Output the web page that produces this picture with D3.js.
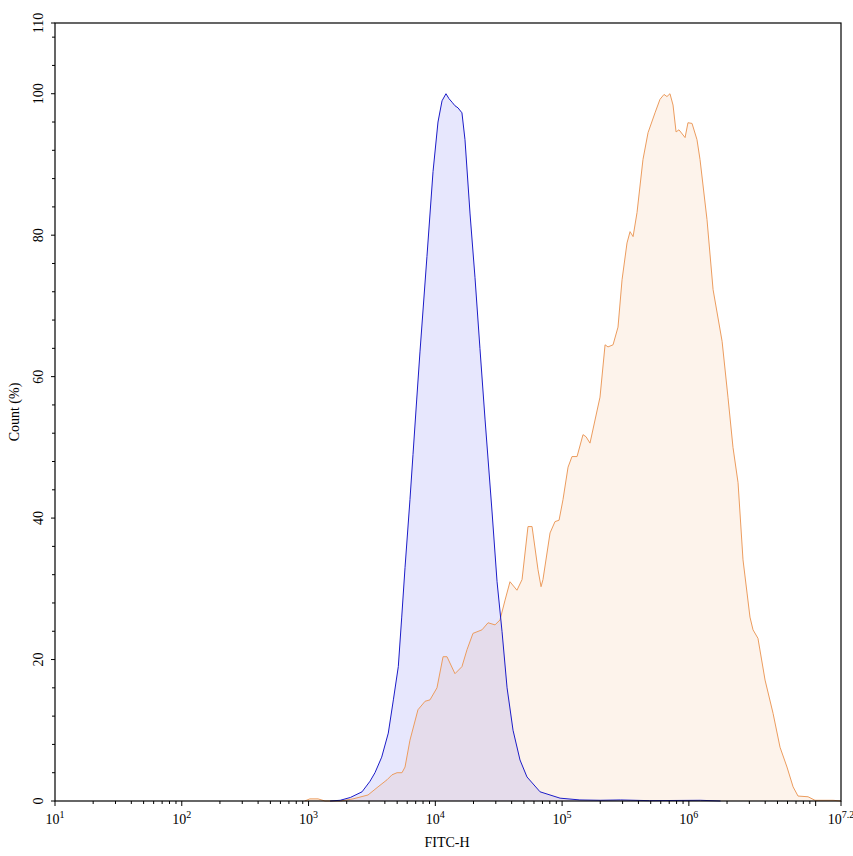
<!DOCTYPE html>
<html>
<head>
<meta charset="utf-8">
<script src="https://cdn.jsdelivr.net/npm/d3@7"></script>
<style>
  body { margin: 0; background: #fff; }
  text { font-family: "Liberation Serif", "Times New Roman", serif; fill: #000; }
</style>
</head>
<body>
<div id="chart"></div>
<script>
/* histogram data: x as log10(FITC-H), y as Count (%) */
var blueExp = [3.17, 3.25, 3.33, 3.422, 3.485, 3.524, 3.577, 3.629, 3.669, 3.708, 3.735, 3.761, 3.800, 3.824, 3.853, 3.879, 3.934, 3.982, 4.021, 4.053, 4.084, 4.108, 4.132, 4.155, 4.179, 4.210, 4.234, 4.274, 4.313, 4.352, 4.392, 4.447, 4.487, 4.526, 4.566, 4.613, 4.668, 4.723, 4.826, 4.984, 5.14, 5.30, 5.46, 5.69, 6.09, 6.25]
var blueCount = [0, 0.1, 0.5, 1.3, 2.8, 4, 6.2, 9.6, 14.3, 19, 26, 33, 42.6, 49, 56.7, 63.5, 77, 89, 96, 99, 100, 99.3, 98.8, 98.3, 98, 97.3, 93.5, 83, 74, 64, 54, 41, 31, 24, 16, 10, 5.8, 3.4, 1.3, 0.4, 0.15, 0.1, 0.15, 0.05, 0.1, 0]

var orangeExp = [2.97, 3.01, 3.075, 3.13, 3.25, 3.351, 3.469, 3.548, 3.619, 3.658, 3.698, 3.737, 3.761, 3.800, 3.863, 3.919, 3.958, 4.013, 4.061, 4.092, 4.155, 4.210, 4.250, 4.297, 4.368, 4.416, 4.471, 4.510, 4.550, 4.589, 4.644, 4.684, 4.731, 4.763, 4.810, 4.834, 4.849, 4.905, 4.944, 4.976, 5.007, 5.047, 5.078, 5.118, 5.165, 5.189, 5.220, 5.299, 5.339, 5.362, 5.402, 5.441, 5.473, 5.512, 5.536, 5.560, 5.591, 5.638, 5.678, 5.733, 5.772, 5.804, 5.827, 5.851, 5.875, 5.899, 5.922, 5.970, 5.993, 6.025, 6.064, 6.088, 6.143, 6.191, 6.262, 6.309, 6.348, 6.388, 6.427, 6.459, 6.482, 6.506, 6.545, 6.601, 6.664, 6.719, 6.774, 6.822, 6.861, 6.940, 6.995, 7.137, 7.2]
var orangeCount = [0, 0.3, 0.3, 0, 0, 0.3, 0.85, 2, 3, 3.7, 4, 4, 4.8, 8.6, 12.9, 14.1, 14.3, 16, 20.4, 20.4, 18, 19, 21.4, 23.7, 24.2, 25.2, 24.9, 25.6, 28.4, 31, 29.8, 31.3, 38.8, 38.8, 32.7, 30.3, 31.3, 37.9, 39.5, 39.7, 42.6, 47.2, 48.7, 48.7, 51.8, 51.5, 50.6, 57.1, 64.5, 64.2, 64.5, 67, 73.7, 78.9, 80.5, 79.8, 83.2, 90.7, 94.5, 97.3, 99.2, 99.9, 99.6, 100, 98.4, 94.6, 94.9, 93.8, 95.9, 95.8, 93.5, 90.7, 82.2, 72.3, 65, 57, 50, 45, 34.1, 29.4, 26, 24.2, 23, 17.1, 12.4, 7.6, 4.8, 2, 0.7, 0.6, 0.1, 0.1, 0]

var yLabels = [0, 20, 40, 60, 80, 100, 110]
var xDecades = [1, 2, 3, 4, 5, 6]
var xMaxExp = 7.2

var width = 853,
    height = 856,
    margin = { left: 55, right: 12, top: 23, bottom: 55 }

var x = d3.scaleLog()
  .domain([10, Math.pow(10, xMaxExp)])
  .range([margin.left, width - margin.right])

var y = d3.scaleLinear()
  .domain([0, 110])
  .range([height - margin.bottom, margin.top])

function zip(exps, counts) {
  return exps.map(function(e, i) { return { v: Math.pow(10, e), c: counts[i] } })
}
var blueData = zip(blueExp, blueCount)
var orangeData = zip(orangeExp, orangeCount)

var svg = d3.select("#chart").append("svg")
  .attr("width", width)
  .attr("height", height)

var area = d3.area()
  .x(function(d) { return x(d.v) })
  .y0(y(0))
  .y1(function(d) { return y(d.c) })
var line = d3.line()
  .x(function(d) { return x(d.v) })
  .y(function(d) { return y(d.c) })

svg.append("path").datum(orangeData)
  .attr("d", area)
  .style("fill", "rgba(235,140,60,0.1)")
svg.append("path").datum(blueData)
  .attr("d", area)
  .style("fill", "rgba(20,20,240,0.1)")
svg.append("path").datum(orangeData)
  .attr("d", line)
  .style("fill", "none")
  .style("stroke", "#ec9c5e")
  .style("stroke-width", 1)
svg.append("path").datum(blueData)
  .attr("d", line)
  .style("fill", "none")
  .style("stroke", "#1c1cc8")
  .style("stroke-width", 1)

/* frame */
svg.append("rect")
  .attr("x", x.range()[0])
  .attr("y", y.range()[1])
  .attr("width", x.range()[1] - x.range()[0])
  .attr("height", y.range()[0] - y.range()[1])
  .style("fill", "none")
  .style("stroke", "#000")
  .style("stroke-width", 1.2)

/* y axis */
var yMinor = d3.range(4, 110, 4).filter(function(v) { return v % 20 !== 0 })
var yAx = svg.append("g")
yAx.selectAll(".yMinor").data(yMinor).enter()
  .append("line")
  .attr("x1", margin.left - 3).attr("x2", margin.left)
  .attr("y1", y).attr("y2", y)
  .style("stroke", "#000")
yAx.selectAll(".yMajor").data(yLabels).enter()
  .append("line")
  .attr("x1", margin.left - 4).attr("x2", margin.left)
  .attr("y1", y).attr("y2", y)
  .style("stroke", "#000")
yAx.selectAll(".yLab").data(yLabels).enter()
  .append("text")
  .text(function(d) { return d })
  .attr("text-anchor", "middle")
  .attr("font-size", 14)
  .attr("transform", function(d) { return "translate(43," + y(d) + ") rotate(-90)" })

svg.append("text")
  .text("Count  (%)")
  .attr("text-anchor", "middle")
  .attr("font-size", 14)
  .attr("transform", "translate(19," + (y(110) + y(0)) / 2 + ") rotate(-90)")

/* x axis */
var x0 = y(0)
var xMinor = []
xDecades.forEach(function(k) {
  for (var m = 2; m <= 9; m++) xMinor.push(m * Math.pow(10, k))
})
var xAx = svg.append("g")
xAx.selectAll(".xMinor").data(xMinor).enter()
  .append("line")
  .attr("x1", x).attr("x2", x)
  .attr("y1", x0).attr("y2", x0 + 3)
  .style("stroke", "#000")
var xMajor = xDecades.map(function(k) { return Math.pow(10, k) }).concat([1e7, Math.pow(10, xMaxExp)])
xAx.selectAll(".xMajor").data(xMajor).enter()
  .append("line")
  .attr("x1", x).attr("x2", x)
  .attr("y1", x0).attr("y2", x0 + 5)
  .style("stroke", "#000")

var xLabelExps = xDecades.concat([xMaxExp])
var xLab = xAx.selectAll(".xLab").data(xLabelExps).enter()
  .append("text")
  .attr("text-anchor", "middle")
  .attr("font-size", 14)
  .attr("x", function(d) { return x(Math.pow(10, d)) })
  .attr("y", 824)
xLab.append("tspan").text("10")
xLab.append("tspan")
  .text(function(d) { return d })
  .attr("font-size", 10)
  .attr("dy", -6)

svg.append("text")
  .text("FITC-H")
  .attr("text-anchor", "middle")
  .attr("font-size", 14)
  .attr("x", 447)
  .attr("y", 847)
</script>
</body>
</html>
